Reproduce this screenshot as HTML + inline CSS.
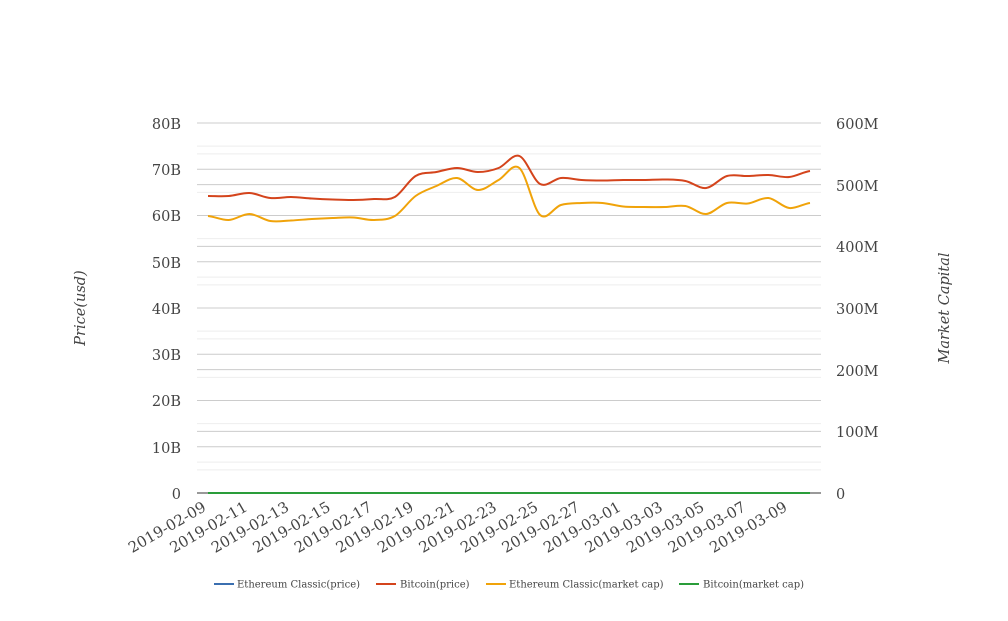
<!DOCTYPE html>
<html><head><meta charset="utf-8"><style>
body{margin:0;background:#fff}
svg text{font-family:"DejaVu Serif","Liberation Serif",serif;fill:#444}
</style></head><body>
<svg id="s" width="1008" height="616" xmlns="http://www.w3.org/2000/svg">
<g id="grid"></g>
<line x1="197" y1="493" x2="821" y2="493" stroke="#333" stroke-width="1"/>
<g font-size="14.5" text-anchor="end">
<text x="181" y="129">80B</text><text x="181" y="175">70B</text><text x="181" y="221">60B</text><text x="181" y="268">50B</text><text x="181" y="314">40B</text><text x="181" y="360">30B</text><text x="181" y="406">20B</text><text x="181" y="453">10B</text><text x="181" y="499">0</text>
</g>
<g font-size="14.5" text-anchor="start">
<text x="836" y="129">600M</text><text x="836" y="191">500M</text><text x="836" y="252">400M</text><text x="836" y="314">300M</text><text x="836" y="376">200M</text><text x="836" y="437">100M</text><text x="836" y="499">0</text>
</g>
<text transform="translate(85,308) rotate(-90)" font-size="14.5" font-style="italic" text-anchor="middle">Price(usd)</text>
<text transform="translate(949,308) rotate(-90)" font-size="14.5" font-style="italic" text-anchor="middle">Market Capital</text>
<g id="xl" font-size="15" text-anchor="end"></g>
<path id="eth" fill="none" stroke="#f0a30a" stroke-width="2"/>
<path id="btc" fill="none" stroke="#d4441c" stroke-width="2"/>
<line x1="208" y1="493" x2="810" y2="493" stroke="#2a9d3a" stroke-width="2"/>
<g font-size="10">
<line x1="214" y1="584" x2="234" y2="584" stroke="#3b6fb0" stroke-width="2"/><text x="237" y="587.5">Ethereum Classic(price)</text>
<line x1="376" y1="584" x2="396" y2="584" stroke="#d4441c" stroke-width="2"/><text x="400" y="587.5">Bitcoin(price)</text>
<line x1="486" y1="584" x2="506" y2="584" stroke="#f0a30a" stroke-width="2"/><text x="509" y="587.5">Ethereum Classic(market cap)</text>
<line x1="679" y1="584" x2="699" y2="584" stroke="#2a9d3a" stroke-width="2"/><text x="703" y="587.5">Bitcoin(market cap)</text>
</g>
</svg>
<script>
var ns="http://www.w3.org/2000/svg",g=document.getElementById('grid');
function ln(y,c){var l=document.createElementNS(ns,'line');l.setAttribute('x1',197);l.setAttribute('x2',821);l.setAttribute('y1',y);l.setAttribute('y2',y);l.setAttribute('stroke',c);g.appendChild(l);}
var L=[],R=[];for(var i=0;i<=8;i++)L.push(123+i*46.25);for(i=0;i<=6;i++)R.push(123+i*61.667);
for(i=0;i<8;i++)ln((L[i]+L[i+1])/2,'#eee');for(i=0;i<6;i++)ln((R[i]+R[i+1])/2,'#eee');
L.forEach(function(y){ln(y,'#ccc')});R.forEach(function(y){ln(y,'#ccc')});
var btc=[196,196,193,198,197,198.5,199.5,200,199,197,176,172,168,172,168,156,184,178,180,180.5,180,180,179.5,181,188,176,176,175,177,171];
var eth=[216,220,214,221,220.5,219,218,217.5,220,216,196,186,178,190,180,168,215,205,203,203,206.5,207,207,206,214,203,203.5,198,208,203];
function X(i){return 208+i*602/29}
function path(a){var d='M'+X(0)+','+a[0];for(var i=0;i<a.length-1;i++){var p0=a[Math.max(i-1,0)],p1=a[i],p2=a[i+1],p3=a[Math.min(i+2,a.length-1)];var dx=602/29;var t=0.5/3;
d+=' C'+(X(i)+dx/3)+','+(p1+(p2-p0)*t)+' '+(X(i+1)-dx/3)+','+(p2-(p3-p1)*t)+' '+X(i+1)+','+p2;}return d;}
document.getElementById('btc').setAttribute('d',path(btc));
document.getElementById('eth').setAttribute('d',path(eth));
var xl=document.getElementById('xl');
var d0=new Date(Date.UTC(2019,1,9));
for(i=0;i<30;i+=2){var d=new Date(d0.getTime()+i*864e5);var s=d.toISOString().slice(0,10);
var t=document.createElementNS(ns,'text');t.setAttribute('transform','translate('+(X(i)-1)+',510) rotate(-30)');t.textContent=s;xl.appendChild(t);}
</script>
</body></html>
